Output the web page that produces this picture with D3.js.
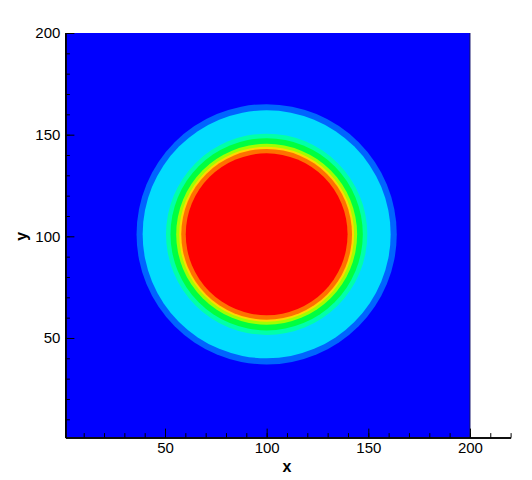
<!DOCTYPE html>
<html>
<head>
<meta charset="utf-8">
<script src="https://cdn.jsdelivr.net/npm/d3@7"></script>
<style>
  html, body { margin: 0; padding: 0; background: #fff; }
  svg { display: block; }
  text { font-family: "Liberation Sans", Arial, sans-serif; }
</style>
</head>
<body>
<svg id="chart" width="532" height="480"></svg>
<script>
// Contour bands, outermost first: outer radius (data units) and fill colour
const bandRadii  = [64, 61, 49.5, 47.3, 44.5, 43, 42, 39.8];
const bandColors = ["#0064ff", "#00dcff", "#00ffaa", "#00ff40", "#a0ff00", "#ffd800", "#ff7000", "#ff0000"];
const backgroundColor = "#0000ff";
const center = { x: 100, y: 101 };
const xMajorTicks = [50, 100, 150, 200];
const yMajorTicks = [50, 100, 150, 200];
const xMinorTicks = d3.range(10, 221, 10);
const yMinorTicks = d3.range(10, 201, 10);
const dataExtent = { x: [1, 200], y: [1, 200] };

const svg = d3.select("#chart");
const x = d3.scaleLinear().domain([1, 220]).range([65.4, 510.6]);
const y = d3.scaleLinear().domain([1, 200]).range([437.6, 33]);

const x0 = x(dataExtent.x[0]), x1 = x(dataExtent.x[1]);
const y0 = y(dataExtent.y[1]), y1 = y(dataExtent.y[0]);

svg.append("clipPath").attr("id", "clip")
  .append("rect").attr("x", x0).attr("y", y0).attr("width", x1 - x0).attr("height", y1 - y0);

const g = svg.append("g").attr("clip-path", "url(#clip)");
g.append("rect").attr("x", x0).attr("y", y0).attr("width", x1 - x0).attr("height", y1 - y0)
  .attr("fill", backgroundColor);

g.selectAll("circle.band").data(bandRadii).join("circle")
  .attr("class", "band")
  .attr("cx", x(center.x))
  .attr("cy", y(center.y))
  .attr("r", d => x(center.x + d) - x(center.x))
  .attr("fill", (d, i) => bandColors[i]);

// right edge line
svg.append("line").attr("x1", x1).attr("x2", x1).attr("y1", y0).attr("y2", y1)
  .attr("stroke", "#000060").attr("stroke-width", 1);

// axes (ticks inward)
const xAxisG = svg.append("g").attr("transform", `translate(0,${y1})`);
xAxisG.call(d3.axisBottom(x).tickValues(xMinorTicks).tickSize(-4.5).tickFormat("").tickSizeOuter(0));
xAxisG.append("g").call(d3.axisBottom(x).tickValues(xMajorTicks).tickSize(-9).tickSizeOuter(0).tickPadding(14));
xAxisG.selectAll("path.domain").attr("stroke", "#000").attr("stroke-width", 1.5);
xAxisG.selectAll("text").attr("font-size", 15).attr("fill", "#000").attr("dy", "0.71em").attr("y", 5);
xAxisG.selectAll("line").attr("stroke", "#000");

const yAxisG = svg.append("g").attr("transform", `translate(${x0},0)`);
yAxisG.call(d3.axisLeft(y).tickValues(yMinorTicks).tickSize(-4.5).tickFormat("").tickSizeOuter(0));
yAxisG.append("g").call(d3.axisLeft(y).tickValues(yMajorTicks).tickSize(-9).tickSizeOuter(0).tickPadding(14));
yAxisG.selectAll("path.domain").attr("stroke", "#000").attr("stroke-width", 1.5);
yAxisG.selectAll("text").attr("font-size", 15).attr("fill", "#000").attr("x", -5);
yAxisG.selectAll("line").attr("stroke", "#000");

svg.append("text").attr("x", 287).attr("y", 472).attr("text-anchor", "middle")
  .attr("font-size", 16).attr("font-weight", "bold").text("x");
svg.append("text").attr("transform", `translate(27,${y(100)}) rotate(-90)`)
  .attr("text-anchor", "middle").attr("font-size", 16).attr("font-weight", "bold").text("y");
</script>
</body>
</html>
